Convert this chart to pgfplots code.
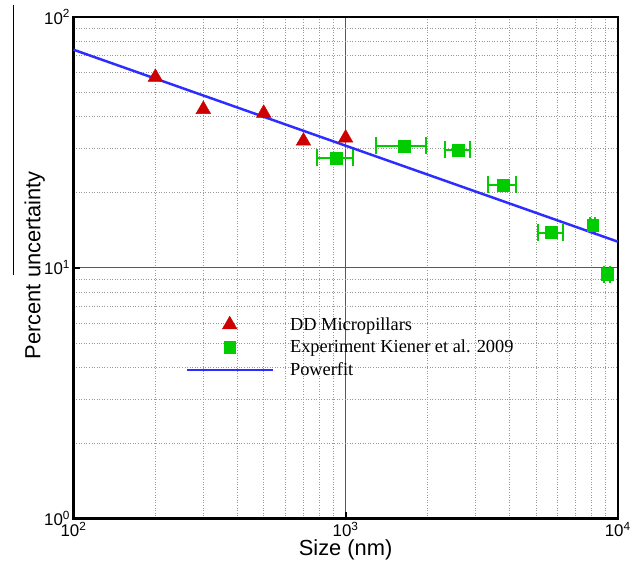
\documentclass[border=0pt]{standalone}
\usepackage{fontspec}
\setmainfont{Liberation Sans}
\newfontfamily\legfont{Liberation Serif}
\usepackage{pgfplots}
\pgfplotsset{compat=1.18}
\definecolor{tri}{RGB}{204,0,0}
\definecolor{sq}{RGB}{0,204,0}
\definecolor{fit}{RGB}{45,45,255}
\begin{document}
\begin{tikzpicture}
\begin{axis}[
  xmode=log, ymode=log,
  scale only axis, width=548pt, height=505pt,
  xmin=100, xmax=10000, ymin=1, ymax=100,
  clip=false,
  axis line style={line width=2.5pt},
  xtick={100,1000,10000},
  xticklabels={10\textsuperscript{2},10\textsuperscript{3},10\textsuperscript{4}},
  ytick={1,10,100},
  yticklabels={10\textsuperscript{0},10\textsuperscript{1},10\textsuperscript{2}},
  tick label style={font=\fontsize{17}{19}\selectfont},
  xtick pos=bottom, ytick pos=left,
  major tick length=7pt, minor tick length=0pt,
  tick style={black, line width=1.8pt},
  tick align=inside,
  xmajorgrids, ymajorgrids, xminorgrids, yminorgrids,
  major grid style={black!65, line width=0.9pt, solid},
  minor grid style={black!40, line width=0.6pt, dotted},
  xlabel={Size (nm)}, ylabel={Percent uncertainty},
  every axis x label/.style={at={(rel axis cs:0.5,-0.062)}, anchor=center, font=\fontsize{22}{24}\selectfont},
  every axis y label/.style={at={(rel axis cs:-0.071,0.505)}, rotate=90, anchor=center, font=\fontsize{22}{24}\selectfont},
  legend cell align=left,
  legend style={at={(rel axis cs:0.205,0.405)}, anchor=north west, draw=none, fill=none,
    font=\legfont\fontsize{18.5}{23.5}\selectfont, inner sep=0pt,
    row sep=4.5pt,
    /tikz/every odd column/.append style={column sep=14pt}},
  legend image code/.code={\draw[mark repeat=2,mark phase=2,#1] plot coordinates {(0pt,0pt)(43.5pt,0pt)(87pt,0pt)};},
]
\addplot[only marks, mark=triangle*, mark size=8.5pt, color=tri] coordinates {
  (200,57.5) (300,42.8) (500,41.3) (700,32.0) (1000,32.9)
};
\addlegendentry{DD Micropillars}
\addplot[only marks, mark=square*, mark size=6pt, color=sq,
  error bars/.cd, x dir=both, x explicit, error mark=|,
  error bar style={line width=2pt, sq},
  error mark options={line width=2pt, mark size=8.5pt, sq}]
  coordinates {
  (922,27.4) +- (140,0)
  (1637,30.6) +- (345,0)
  (2584,29.5) +- (270,0)
  (3794,21.4) +- (450,0)
  (5693,13.8) +- (600,0)
  (8090,14.8) +- (180,0)
  (9163,9.4) +- (230,0)
};
\addlegendentry{Experiment Kiener et al. 2009}
\addplot[no marks, color=fit, line width=2.5pt] coordinates {
  (100,74) (10000,12.7)
};
\addlegendentry{Powerfit}
\draw[black, line width=0.8pt] (rel axis cs:-0.111,1.024) -- (rel axis cs:-0.111,0.485);
\path (rel axis cs:-0.135,-0.089) rectangle (rel axis cs:1.0219,1.0337);
\end{axis}
\end{tikzpicture}
\end{document}
